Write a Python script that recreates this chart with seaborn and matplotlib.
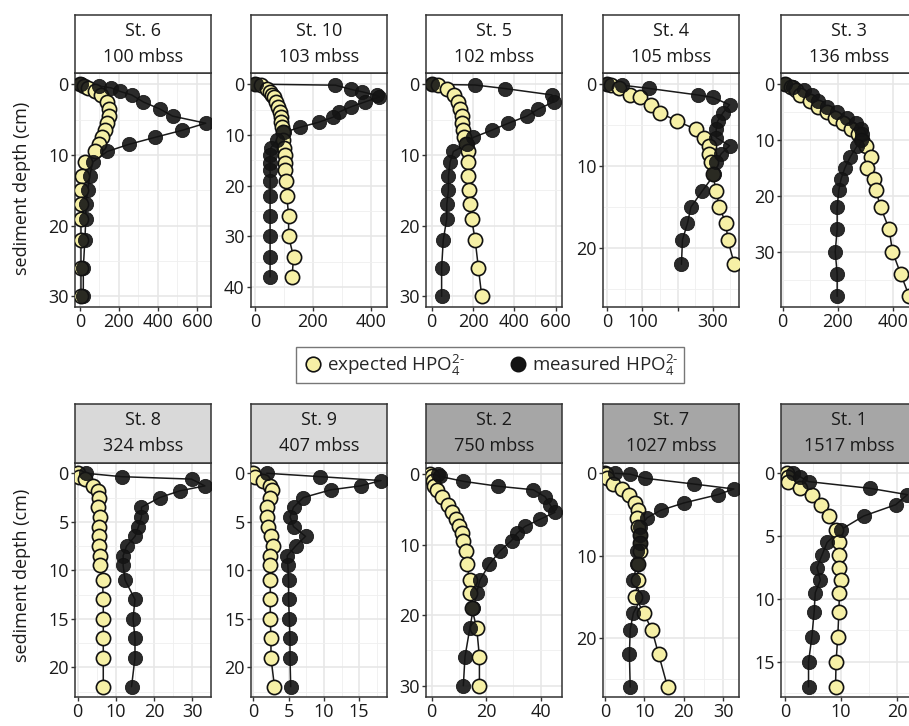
import numpy as np
import pandas as pd
import matplotlib
matplotlib.use('Agg')
import matplotlib.pyplot as plt
from matplotlib.lines import Line2D
import seaborn as sns

# station labels
stations = ['St. 6', 'St. 10', 'St. 5', 'St. 4', 'St. 3',
            'St. 8', 'St. 9', 'St. 2', 'St. 7', 'St. 1']
water_depth = ['100 mbss', '103 mbss', '102 mbss', '105 mbss', '136 mbss',
               '324 mbss', '407 mbss', '750 mbss', '1027 mbss', '1517 mbss']

# St. 6
depth_st6 = [0, 0.25, 0.5, 1, 1.5, 2.5, 3.5, 4.5, 5.5, 6.5, 7.5, 8.5, 9.5, 11, 13, 15, 17, 19, 22, 26, 30]
meas_st6 = [5, 100, 160, 205, 265, 325, 410, 475, 645, 525, 385, 250, 140, 65, 50, 40, 30, 30, 25, 17, 17]
exp_st6 = [0, 20, 43, 77, 110, 137, 148, 148, 140, 128, 112, 95, 78, 25, 8, 5, 5, 5, 5, 5, 5]

# St. 10
depth_st10 = [0, 0.2, 1, 1.5, 2.2, 2.5, 3.5, 4.5, 5.5, 6.5, 7.5, 8.5, 9.5, 11, 12.5, 14, 15.5, 17, 19, 22, 26, 30, 34, 38]
meas_st10 = [5, 278, 330, 370, 420, 430, 380, 330, 290, 270, 220, 155, 100, 75, 55, 52, 52, 52, 52, 52, 52, 52, 52, 52]
exp_st10 = [0, 20, 41, 50, 60, 64, 72, 80, 86, 89, 91, 93, 95, 98, 100, 104, 104, 104, 107, 110, 116, 116, 133, 128]

# St. 5
depth_st5 = [0, 0.1, 0.6, 1.5, 2.5, 3.5, 4.5, 5.5, 6.5, 7.5, 8.5, 9.5, 11, 13, 15, 17, 19, 22, 26, 30]
meas_st5 = [0, 210, 355, 581, 589, 516, 460, 371, 290, 202, 169, 105, 89, 81, 81, 73, 73, 56, 48, 48]
exp_st5 = [0, 32, 73, 110, 129, 137, 145, 148, 153, 157, 165, 177, 177, 177, 182, 185, 193, 210, 226, 242]

# St. 4
depth_st4 = [0, 0.1, 0.5, 1.3, 1.6, 2.5, 3.5, 4.5, 5.5, 6.5, 7.5, 8.5, 9.5, 11, 13, 15, 17, 19, 22]
meas_st4 = [0, 41, 118, 257, 300, 348, 329, 314, 310, 310, 348, 324, 310, 305, 271, 238, 228, 214, 211]
exp_st4 = [0, 10, 32, 65, 94, 123, 151, 199, 252, 276, 290, 290, 295, 300, 310, 319, 338, 343, 362]

# St. 3
depth_st3 = [0, 0.5, 1, 2, 3, 4, 5, 6, 7, 8, 9, 10, 11, 13, 15, 17, 19, 22, 26, 30, 34, 38]
meas_st3 = [8, 39, 76, 107, 130, 161, 198, 234, 265, 283, 290, 285, 271, 246, 226, 212, 204, 198, 198, 191, 198, 198]
exp_st3 = [8, 30, 50, 63, 100, 130, 160, 190, 220, 250, 275, 290, 301, 320, 307, 332, 338, 356, 387, 399, 429, 460]

# St. 8
depth_st8 = [0, 0.35, 0.6, 1.3, 1.8, 2.5, 3.5, 4.5, 5.5, 6.5, 7.5, 8.5, 9.5, 11, 13, 15, 17, 19, 22]
meas_st8 = [2.2, 11.5, 29.8, 33.3, 26.8, 21.5, 16.7, 16.7, 15.9, 15.0, 12.8, 11.9, 11.9, 12.4, 15.0, 14.5, 15.0, 15.0, 14.1]
exp_st8 = [0, 0.4, 1.9, 4.1, 5.4, 5.7, 5.4, 5.8, 5.7, 5.7, 5.7, 5.8, 5.8, 6.5, 6.7, 6.7, 6.7, 6.7, 6.7]

# St. 9
depth_st9 = [0, 0.35, 0.75, 1.3, 1.7, 2.5, 3.5, 4.5, 5.5, 6.5, 7.5, 8.5, 9.5, 11, 13, 15, 17, 19, 22]
meas_st9 = [1.9, 9.5, 18.1, 15.2, 11.0, 7.1, 5.7, 5.2, 5.7, 7.4, 6.0, 4.8, 4.9, 5.0, 5.0, 5.1, 5.2, 5.2, 5.3]
exp_st9 = [0, 0.3, 1.4, 2.4, 2.6, 2.3, 2.0, 2.0, 2.1, 2.5, 2.8, 2.4, 2.4, 2.4, 2.4, 2.4, 2.5, 2.5, 3.0]

# St. 2
depth_st2 = [0, 0.3, 1, 1.7, 2.2, 3.2, 4.3, 5.4, 6.4, 7.4, 8.4, 9.4, 10.9, 12.8, 15, 16.8, 19, 21.8, 25.9, 30]
meas_st2 = [2.4, 3.0, 11.6, 24.4, 37.3, 41.6, 43.4, 45.2, 39.7, 34.2, 31.2, 29.3, 25.0, 21.1, 17.7, 16.5, 15.3, 14.0, 12.2, 11.6]
exp_st2 = [-0.5, 0, 0.3, 1.0, 2.0, 3.9, 6.1, 7.4, 8.8, 10.0, 11.0, 11.6, 12.6, 12.8, 14.0, 14.0, 14.7, 16.5, 17.5, 17.5]

# St. 7
depth_st7 = [0, 0.1, 0.6, 1.3, 1.9, 2.6, 3.6, 4.5, 5.4, 6.5, 7.5, 8.5, 9.5, 11, 13, 15, 17, 19, 22, 26]
meas_st7 = [2.6, 6.4, 10.2, 22.6, 32.7, 28.6, 20.0, 14.1, 10.7, 9.0, 9.0, 9.0, 8.1, 8.1, 7.2, 9.4, 7.2, 6.4, 6.2, 6.4]
exp_st7 = [0, 0.2, 0.4, 2.1, 4.3, 6.0, 7.7, 8.5, 8.1, 8.3, 8.8, 9.0, 9.0, 8.5, 8.3, 7.7, 9.8, 11.9, 13.6, 15.9]

# St. 1
depth_st1 = [0, 0.27, 0.66, 1.2, 1.7, 2.5, 3.4, 4.5, 5.5, 6.5, 7.5, 8.5, 9.5, 11, 13, 15, 17]
meas_st1 = [1.5, 2.7, 4.2, 15.2, 21.8, 19.7, 14.0, 9.9, 7.5, 6.6, 5.7, 6.3, 5.4, 5.2, 4.8, 4.2, 4.2]
exp_st1 = [0.4, 0.5, 0.6, 2.7, 4.8, 6.4, 7.9, 9.0, 9.6, 9.6, 9.7, 10.0, 9.7, 9.6, 9.4, 9.1, 9.0]

profiles = [
    (depth_st6, meas_st6, exp_st6), (depth_st10, meas_st10, exp_st10),
    (depth_st5, meas_st5, exp_st5), (depth_st4, meas_st4, exp_st4),
    (depth_st3, meas_st3, exp_st3), (depth_st8, meas_st8, exp_st8),
    (depth_st9, meas_st9, exp_st9), (depth_st2, meas_st2, exp_st2),
    (depth_st7, meas_st7, exp_st7), (depth_st1, meas_st1, exp_st1),
]

# axis setup per panel: xlim, ylim (inverted), xticks, yticks
xlims = [(-25.6, 672), (-14, 456), (-27.5, 630), (-12.4, 375), (-6, 488),
         (-0.7, 34.9), (-0.33, 18.95), (-2.1, 47.8), (-0.5, 34), (-0.7, 23.5)]
ylims = [(31.5, -1.6), (43.9, -2.2), (31.5, -1.6), (27.2, -1.38), (39.9, -2.0),
         (23.06, -1.06), (23.06, -1.06), (31.6, -1.6), (27.2, -1.26), (17.8, -0.82)]
xticks = [[0, 200, 400, 600], [0, 200, 400], [0, 200, 400, 600], [0, 100, 200, 300], [0, 200, 400],
          [0, 10, 20, 30], [0, 5, 10, 15], [0, 20, 40], [0, 10, 20, 30], [0, 10, 20]]
yticks = [[0, 10, 20, 30], [0, 10, 20, 30, 40], [0, 10, 20, 30], [0, 10, 20], [0, 10, 20, 30],
          [0, 5, 10, 15, 20], [0, 5, 10, 15, 20], [0, 10, 20, 30], [0, 10, 20], [0, 5, 10, 15]]
strip_colors = ['white'] * 5 + ['#d9d9d9', '#d9d9d9', '#a6a6a6', '#a6a6a6', '#a6a6a6']

sns.set_theme(style='white')
plt.rcParams['font.family'] = ['Open Sans', 'DejaVu Sans']
plt.rcParams['mathtext.fontset'] = 'custom'
plt.rcParams['mathtext.rm'] = 'Open Sans'
plt.rcParams['mathtext.it'] = 'Open Sans'

FS = 13
yellow = '#f6f0a6'
dark = '#333333'
MS = 105

W, H = 909, 726
fig = plt.figure(figsize=(W / 100, H / 100), dpi=100)
lefts = [75, 251, 426, 603, 781]
pw = 136


def minor_between(major, lo, hi):
    step = major[1] - major[0]
    cand = [m + step / 2 for m in [major[0] - step] + list(major)]
    return [c for c in cand if lo < c < hi]


for i in range(10):
    row, col = divmod(i, 5)
    if row == 0:
        ptop, pbot, stop = 73, 307, 15
    else:
        ptop, pbot, stop = 463, 697, 404
    l = lefts[col] / W
    ax = fig.add_axes([l, (H - pbot) / H, pw / W, (pbot - ptop) / H])
    sax = fig.add_axes([l, (H - ptop) / H, pw / W, (ptop - stop) / H])

    d, m, e = profiles[i]
    df = pd.DataFrame({'depth': d, 'measured': m, 'expected': e})

    sns.lineplot(data=df, x='expected', y='depth', sort=False, estimator=None,
                 color='#1a1a1a', lw=1.1, ax=ax, zorder=3)
    sns.lineplot(data=df, x='measured', y='depth', sort=False, estimator=None,
                 color='#1a1a1a', lw=1.1, ax=ax, zorder=3)
    sns.scatterplot(data=df, x='expected', y='depth', s=MS, color=yellow,
                    edgecolor='#111111', linewidth=1.2, ax=ax, zorder=4)
    sns.scatterplot(data=df, x='measured', y='depth', s=MS, color='#141414',
                    edgecolor='#111111', linewidth=0.6, alpha=0.9, ax=ax, zorder=5)

    ax.set_xlim(*xlims[i])
    ax.set_ylim(*ylims[i])
    ax.set_xticks(xticks[i])
    if i == 3:
        ax.set_xticklabels(['0', '100', '', '300'])
    ax.set_yticks(yticks[i])
    ax.set_xticks(minor_between(xticks[i], *xlims[i]), minor=True)
    yl = sorted(ylims[i])
    ax.set_yticks(minor_between(yticks[i], *yl), minor=True)
    ax.grid(which='major', color='#e6e6e6', lw=1.1, zorder=0)
    ax.grid(which='minor', color='#efefef', lw=0.6, zorder=0)
    ax.set_axisbelow(True)
    ax.set_xlabel('')
    ax.set_ylabel('')
    ax.tick_params(which='major', length=3, width=1, color=dark, labelsize=FS,
                   labelcolor='#1a1a1a', pad=1.5, bottom=True, left=True)
    ax.tick_params(which='minor', length=0)
    for sp in ax.spines.values():
        sp.set_color(dark)
        sp.set_linewidth(1.1)

    sax.set_facecolor(strip_colors[i])
    sax.set_xticks([])
    sax.set_yticks([])
    for sp in sax.spines.values():
        sp.set_color(dark)
        sp.set_linewidth(1.1)
    sax.text(0.5, 0.73, stations[i], ha='center', va='center', fontsize=FS,
             color='#1a1a1a', transform=sax.transAxes)
    sax.text(0.5, 0.28, water_depth[i], ha='center', va='center', fontsize=FS,
             color='#1a1a1a', transform=sax.transAxes)

fig.text(22 / W, 0.741, 'sediment depth (cm)', rotation=90, ha='center', va='center',
         fontsize=FS, color='#1a1a1a')
fig.text(22 / W, 0.207, 'sediment depth (cm)', rotation=90, ha='center', va='center',
         fontsize=FS, color='#1a1a1a')

handles = [
    Line2D([], [], marker='o', ls='none', markersize=10.5, markerfacecolor=yellow,
           markeredgecolor='#111111', markeredgewidth=1.2),
    Line2D([], [], marker='o', ls='none', markersize=10.5, markerfacecolor='#141414',
           markeredgecolor='#111111'),
]
labels = [r'expected HPO$_4^{2\text{-}}$', r'measured HPO$_4^{2\text{-}}$']
leg = fig.legend(handles, labels, loc='center', bbox_to_anchor=(490 / W, (H - 365) / H),
                 ncol=2, frameon=True, fancybox=False, fontsize=FS + 0.5, handletextpad=0.15,
                 columnspacing=2.2, borderpad=0.3, handlelength=1.2, borderaxespad=0)
leg.get_frame().set_edgecolor('#555555')
leg.get_frame().set_linewidth(1.0)

fig.savefig('out.png', dpi=100)
